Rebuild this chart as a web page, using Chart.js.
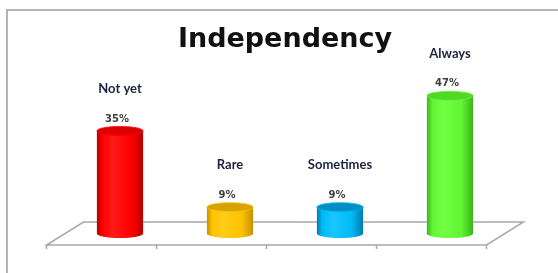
<!DOCTYPE html>
<html>
<head>
<meta charset="utf-8">
<script src="https://cdn.jsdelivr.net/npm/chart.js@4"></script>
<style>
  html, body { margin: 0; padding: 0; background: #fff; }
  #wrap { position: relative; width: 558px; height: 273px; }
</style>
</head>
<body>
<div id="wrap"><canvas id="c" width="558" height="273"></canvas></div>
<script>
// Independency survey - 3D cylinder style column chart
var categories = ['Not yet', 'Rare', 'Sometimes', 'Always'];
var shares = [35, 9, 9, 47];
var titleText = 'Independency';

// cylinder shading per bar: side edge, highlight, body, top cap
var cylColors = [
  { edge: '#b80000', hi: '#ff1a1a', body: '#ff0000', top: '#dc0000' },
  { edge: '#c49200', hi: '#ffcc1a', body: '#ffc400', top: '#d6a300' },
  { edge: '#007cb0', hi: '#1ac6ff', body: '#00bbf5', top: '#008fc4' },
  { edge: '#3cb41c', hi: '#72ff45', body: '#62f532', top: '#52d824' }
];

var DEPTH_X = 37, DEPTH_Y = 23;   // floor depth (oblique projection)
var CAP_RY = 4.5;

function drawCylinder(ctx, cx, top, base, w, c) {
  var rx = w / 2;
  var g = ctx.createLinearGradient(cx - rx, 0, cx + rx, 0);
  g.addColorStop(0, c.edge);
  g.addColorStop(0.12, c.body);
  g.addColorStop(0.35, c.hi);
  g.addColorStop(0.75, c.body);
  g.addColorStop(1, c.edge);
  ctx.beginPath();
  ctx.moveTo(cx - rx, top);
  ctx.lineTo(cx - rx, base);
  ctx.ellipse(cx, base, rx, CAP_RY, 0, Math.PI, 0, true);
  ctx.lineTo(cx + rx, top);
  ctx.closePath();
  ctx.fillStyle = g;
  ctx.fill();
  ctx.beginPath();
  ctx.ellipse(cx, top, rx, CAP_RY, 0, 0, Math.PI * 2);
  ctx.fillStyle = c.top;
  ctx.fill();
  ctx.lineWidth = 0.8;
  ctx.strokeStyle = c.body;
  ctx.stroke();
}

var scene3d = {
  id: 'scene3d',
  beforeDraw: function (chart) {
    var ctx = chart.ctx;
    ctx.save();
    ctx.fillStyle = '#fff';
    ctx.fillRect(0, 0, chart.width, chart.height);
    // outer frame (top + left visible)
    ctx.strokeStyle = '#b4b4b4';
    ctx.lineWidth = 2;
    ctx.beginPath();
    ctx.moveTo(7, chart.height);
    ctx.lineTo(7, 10);
    ctx.lineTo(chart.width, 10);
    ctx.stroke();
    // title
    ctx.fillStyle = '#111';
    ctx.font = 'bold 27px "DejaVu Sans"';
    ctx.textAlign = 'center';
    ctx.textBaseline = 'alphabetic';
    ctx.fillText(titleText, 285, 47);
    ctx.restore();
  },
  beforeDatasetsDraw: function (chart) {
    var ctx = chart.ctx, a = chart.chartArea;
    var y0 = chart.scales.y.getPixelForValue(0);
    var fy = y0 + DEPTH_Y / 2, by = y0 - DEPTH_Y / 2;
    var fl = a.left - DEPTH_X / 2, fr = a.right - DEPTH_X / 2;
    ctx.save();
    ctx.strokeStyle = '#a8a8a8';
    ctx.lineWidth = 1.5;
    ctx.beginPath();
    ctx.moveTo(fl, fy);
    ctx.lineTo(fr, fy);
    ctx.lineTo(fr + DEPTH_X, by);
    ctx.lineTo(fl + DEPTH_X, by);
    ctx.closePath();
    ctx.stroke();
    // category boundary ticks on the front edge
    var step = (a.right - a.left) / categories.length;
    ctx.beginPath();
    for (var i = 0; i <= categories.length; i++) {
      var tx = fl + step * i;
      ctx.moveTo(tx, fy);
      ctx.lineTo(tx, fy + 4);
    }
    ctx.stroke();
    ctx.restore();
  },
  afterDatasetsDraw: function (chart) {
    var ctx = chart.ctx;
    var meta = chart.getDatasetMeta(0);
    ctx.save();
    meta.data.forEach(function (el, i) {
      var p = el.getProps(['x', 'y', 'base', 'width'], true);
      drawCylinder(ctx, p.x, p.y, p.base, p.width, cylColors[i]);
    });
    // labels
    ctx.textAlign = 'center';
    ctx.textBaseline = 'middle';
    meta.data.forEach(function (el, i) {
      var p = el.getProps(['x', 'y'], true);
      ctx.fillStyle = '#404040';
      ctx.font = 'bold 10px "DejaVu Sans"';
      ctx.fillText(shares[i] + '%', p.x - 3, p.y - 12);
      ctx.fillStyle = '#1c2340';
      ctx.font = 'bold 13px Lato';
      ctx.fillText(categories[i], p.x, p.y - 42);
    });
    ctx.restore();
  }
};

new Chart(document.getElementById('c'), {
  type: 'bar',
  data: {
    labels: categories,
    datasets: [{
      data: shares,
      backgroundColor: 'rgba(0,0,0,0)',
      borderWidth: 0,
      categoryPercentage: 1,
      barPercentage: 0.42
    }]
  },
  options: {
    responsive: false,
    animation: false,
    layout: { padding: { left: 65, right: 53, top: 87, bottom: 39.5 } },
    plugins: { legend: { display: false }, tooltip: { enabled: false }, title: { display: false } },
    scales: {
      x: { display: false },
      y: { display: false, min: 0, max: 50 }
    }
  },
  plugins: [scene3d]
});
</script>
</body>
</html>
